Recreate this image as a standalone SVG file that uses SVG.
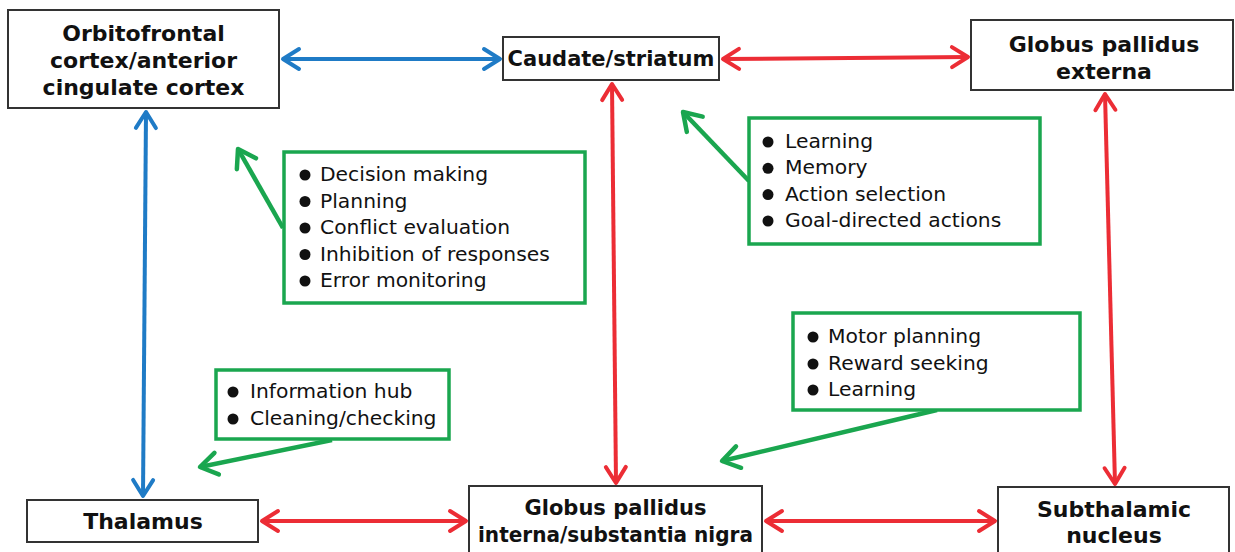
<svg xmlns="http://www.w3.org/2000/svg" width="1235" height="552" viewBox="0 0 1235 552">
  <style>
    .node { fill: #ffffff; stroke: #333333; stroke-width: 2; }
    .title { font-family: "DejaVu Sans", "Liberation Sans", sans-serif; font-weight: bold; font-size: 22px; fill: #111111; text-anchor: middle; }
    .note { fill: #ffffff; stroke: #1aa64f; stroke-width: 3.5; }
    .item { font-family: "DejaVu Sans", "Liberation Sans", sans-serif; font-size: 20.3px; fill: #111111; }
    .bullet { fill: #111111; }
    .blue { stroke: #1f7bc6; stroke-width: 4; fill: none; marker-start: url(#mb); marker-end: url(#mb); }
    .red { stroke: #ec2d35; stroke-width: 4; fill: none; marker-start: url(#mr); marker-end: url(#mr); }
    .green { stroke: #1aa64f; stroke-width: 4.5; fill: none; marker-end: url(#mg); }
  </style>
  <defs>
    <marker id="mb" markerUnits="userSpaceOnUse" markerWidth="30" markerHeight="30" viewBox="-20 -15 30 30" refX="0" refY="0" orient="auto-start-reverse" overflow="visible">
      <path d="M -16,-10 L 0,0 L -16,10" fill="none" stroke="#1f7bc6" stroke-width="4" stroke-linecap="round" stroke-linejoin="round"/>
    </marker>
    <marker id="mr" markerUnits="userSpaceOnUse" markerWidth="30" markerHeight="30" viewBox="-20 -15 30 30" refX="0" refY="0" orient="auto-start-reverse" overflow="visible">
      <path d="M -16,-10 L 0,0 L -16,10" fill="none" stroke="#ec2d35" stroke-width="4" stroke-linecap="round" stroke-linejoin="round"/>
    </marker>
    <marker id="mg" markerUnits="userSpaceOnUse" markerWidth="30" markerHeight="30" viewBox="-20 -15 30 30" refX="0" refY="0" orient="auto" overflow="visible">
      <path d="M -17,-11 L 0,0 L -17,11" fill="none" stroke="#1aa64f" stroke-width="4.5" stroke-linecap="round" stroke-linejoin="round"/>
    </marker>
  </defs>
  <rect width="1235" height="552" fill="#ffffff"/>

  <g id="connectors">
    <line class="blue" x1="283" y1="59" x2="500" y2="59"/>
    <line class="blue" x1="146" y1="112" x2="143" y2="496"/>
    <line class="red" x1="723" y1="59" x2="968" y2="57"/>
    <line class="red" x1="612" y1="84" x2="616" y2="483"/>
    <line class="red" x1="1105" y1="94" x2="1115" y2="484"/>
    <line class="red" x1="262" y1="521" x2="466" y2="521"/>
    <line class="red" x1="766" y1="521" x2="995" y2="521"/>
    <line class="green" x1="283" y1="228" x2="238" y2="149"/>
    <line class="green" x1="749" y1="181" x2="683" y2="112"/>
    <line class="green" x1="332" y1="440" x2="200" y2="467"/>
    <line class="green" x1="937" y1="410" x2="722" y2="461"/>
  </g>

  <g id="ofc">
    <rect class="node" x="8" y="10" width="271" height="98"/>
    <text class="title" x="143.5" y="41">Orbitofrontal</text>
    <text class="title" x="143.5" y="68">cortex/anterior</text>
    <text class="title" x="143.5" y="95">cingulate cortex</text>
  </g>
  <g id="caudate">
    <rect class="node" x="503" y="37" width="216" height="43"/>
    <text class="title" x="611" y="66" style="font-size:21px">Caudate/striatum</text>
  </g>
  <g id="gpe">
    <rect class="node" x="971" y="20" width="262" height="70"/>
    <text class="title" x="1104" y="52">Globus pallidus</text>
    <text class="title" x="1104" y="79">externa</text>
  </g>
  <g id="thalamus">
    <rect class="node" x="27" y="500" width="231" height="42"/>
    <text class="title" x="143" y="529">Thalamus</text>
  </g>
  <g id="gpi">
    <rect class="node" x="469" y="486" width="293" height="72"/>
    <text class="title" x="615.5" y="515" textLength="182" lengthAdjust="spacingAndGlyphs">Globus pallidus</text>
    <text class="title" x="615.5" y="542" textLength="275" lengthAdjust="spacingAndGlyphs">interna/substantia nigra</text>
  </g>
  <g id="stn">
    <rect class="node" x="998" y="487" width="231" height="70"/>
    <text class="title" x="1114" y="517">Subthalamic</text>
    <text class="title" x="1114" y="543">nucleus</text>
  </g>

  <g id="note-ofc">
    <rect class="note" x="284" y="152" width="301" height="151"/>
    <circle class="bullet" cx="305" cy="175" r="5.5"/>
    <circle class="bullet" cx="305" cy="201.5" r="5.5"/>
    <circle class="bullet" cx="305" cy="228" r="5.5"/>
    <circle class="bullet" cx="305" cy="254.5" r="5.5"/>
    <circle class="bullet" cx="305" cy="281" r="5.5"/>
    <text class="item" x="320" y="181">Decision making</text>
    <text class="item" x="320" y="207.5">Planning</text>
    <text class="item" x="320" y="234">Conflict evaluation</text>
    <text class="item" x="320" y="260.5">Inhibition of responses</text>
    <text class="item" x="320" y="287">Error monitoring</text>
  </g>
  <g id="note-caudate">
    <rect class="note" x="749" y="118" width="291" height="126"/>
    <circle class="bullet" cx="768" cy="142" r="5.5"/>
    <circle class="bullet" cx="768" cy="168.3" r="5.5"/>
    <circle class="bullet" cx="768" cy="194.6" r="5.5"/>
    <circle class="bullet" cx="768" cy="221" r="5.5"/>
    <text class="item" x="785" y="148">Learning</text>
    <text class="item" x="785" y="174.3">Memory</text>
    <text class="item" x="785" y="200.6">Action selection</text>
    <text class="item" x="785" y="227">Goal-directed actions</text>
  </g>
  <g id="note-thalamus">
    <rect class="note" x="216" y="370" width="233" height="69"/>
    <circle class="bullet" cx="233" cy="392" r="5.5"/>
    <circle class="bullet" cx="233" cy="419" r="5.5"/>
    <text class="item" x="250" y="398">Information hub</text>
    <text class="item" x="250" y="425">Cleaning/checking</text>
  </g>
  <g id="note-gpi">
    <rect class="note" x="793" y="313" width="287" height="97"/>
    <circle class="bullet" cx="813" cy="337" r="5.5"/>
    <circle class="bullet" cx="813" cy="364" r="5.5"/>
    <circle class="bullet" cx="813" cy="390" r="5.5"/>
    <text class="item" x="828" y="343">Motor planning</text>
    <text class="item" x="828" y="370">Reward seeking</text>
    <text class="item" x="828" y="396">Learning</text>
  </g>
</svg>
